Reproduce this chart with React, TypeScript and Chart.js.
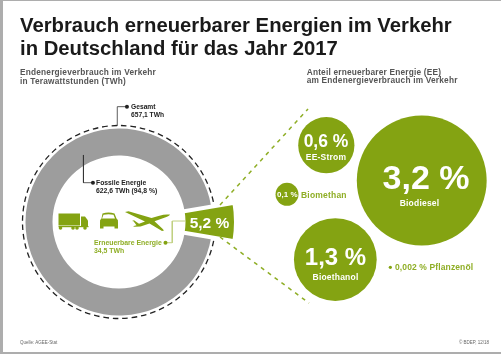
import React, { useEffect, useRef } from "react";
import { Chart, registerables } from "chart.js";

Chart.register(...registerables);

const ringLabels = ["Fossile Energie", "Erneuerbare Energie"];
const ringValues = [622.6, 34.5];
const shareLabels = ["EE-Strom", "Biodiesel", "Biomethan", "Bioethanol", "Pflanzenöl"];
const shareValues = [0.6, 3.2, 0.1, 1.3, 0.002];
const shareX = [326.3, 421.7, 287, 335.3, 390.3];
const shareY = [145.2, 180.5, 194.3, 259.5, 267.3];
const guideUpperX = [220, 308];
const guideUpperY = [205, 109];
const guideLowerX = [220, 309];
const guideLowerY = [237, 303];
const gesamtX = [117.3, 117.3, 127];
const gesamtY = [126, 106.7, 106.7];
const fossilX = [83.5, 83.5, 93];
const fossilY = [155, 182.7, 182.7];
const renewableX = [185, 172.3, 172.3, 165.5];
const renewableY = [221, 221, 242.7, 242.7];

const GREEN = "#84a312";
const LIGHT = "#8fae26";
const GRAY = "#9d9d9d";
const FONT = '"Liberation Sans", Arial, sans-serif';
const CX = 118.5;
const CY = 222;
const BOX = 260;
const SCALE = 36.3;
const PAD = 65; // Chart.js insets the plot area by the largest bubble radius
const halfAngle = (ringValues[1] / (ringValues[0] + ringValues[1])) * 180;

type TP = { x: number; y: number; s: number; c?: string; center?: boolean; ls?: number; w?: number; children: React.ReactNode };
function T({ x, y, s, c = "#222", center, ls = 0, w = 700, children }: TP) {
  return (
    <div
      style={{
        position: "absolute",
        left: x,
        top: y,
        transform: center ? "translate(-50%,-50%)" : "translateY(-50%)",
        font: `${w} ${s}px ${FONT}`,
        color: c,
        letterSpacing: ls,
        whiteSpace: "nowrap",
        lineHeight: 1,
      }}
    >
      {children}
    </div>
  );
}

function pts(xs: number[], ys: number[]) {
  return xs.map((x, i) => ({ x, y: ys[i] }));
}

export default function App() {
  const ringRef = useRef<HTMLCanvasElement>(null);
  const sliceRef = useRef<HTMLCanvasElement>(null);
  const mainRef = useRef<HTMLCanvasElement>(null);

  useEffect(() => {
    const common = {
      animation: false as const,
      responsive: false,
      events: [] as any[],
      plugins: { legend: { display: false }, tooltip: { enabled: false } },
    };
    const dashedCircle = {
      id: "dashedCircle",
      beforeDatasetsDraw(chart: any) {
        const { ctx, chartArea } = chart;
        ctx.save();
        ctx.beginPath();
        ctx.arc((chartArea.left + chartArea.right) / 2, (chartArea.top + chartArea.bottom) / 2, 96.5, 0, Math.PI * 2);
        ctx.setLineDash([5.6, 3.9]);
        ctx.lineWidth = 1.3;
        ctx.strokeStyle = "#222";
        ctx.stroke();
        ctx.restore();
      },
    };
    const ring = new Chart(ringRef.current!, {
      type: "doughnut",
      data: {
        labels: ringLabels,
        datasets: [{ data: ringValues, backgroundColor: [GRAY, "rgba(0,0,0,0)"], borderWidth: 0 }],
      },
      options: { ...common, rotation: 90 + halfAngle, radius: 93.5, cutout: `${(66.5 / 93.5) * 100}%` } as any,
      plugins: [dashedCircle],
    });
    const slice = new Chart(sliceRef.current!, {
      type: "doughnut",
      data: {
        labels: ringLabels,
        datasets: [
          {
            data: ringValues,
            backgroundColor: ["rgba(0,0,0,0)", GREEN],
            borderColor: ["rgba(0,0,0,0)", "#ffffff"],
            borderWidth: [0, 4],
            borderAlign: "center",
          },
        ],
      },
      options: { ...common, rotation: 90 + halfAngle, radius: 117, cutout: `${(64.5 / 117) * 100}%` } as any,
    });
    const lineBase = { type: "line" as const, fill: false, tension: 0, showLine: true };
    const dotAtEnd = (n: number) => (ctx: any) => (ctx.dataIndex === n - 1 ? 2 : 0);
    const main = new Chart(mainRef.current!, {
      type: "bubble",
      data: {
        datasets: [
          {
            label: "Anteil EE",
            data: shareValues.map((v, i) => ({ x: shareX[i], y: shareY[i], r: Math.sqrt(v) * SCALE })),
            backgroundColor: GREEN,
            borderWidth: 0,
          },
          { ...lineBase, data: pts(guideUpperX, guideUpperY), borderColor: LIGHT, borderWidth: 1.5, borderDash: [4, 4.5], pointRadius: 0 },
          { ...lineBase, data: pts(guideLowerX, guideLowerY), borderColor: LIGHT, borderWidth: 1.5, borderDash: [4, 4.5], pointRadius: 0 },
          { ...lineBase, data: pts(gesamtX, gesamtY), borderColor: "#333", borderWidth: 0.8, pointRadius: dotAtEnd(3), pointBackgroundColor: "#222", pointBorderWidth: 0 },
          { ...lineBase, data: pts(fossilX, fossilY), borderColor: "#333", borderWidth: 0.8, pointRadius: dotAtEnd(3), pointBackgroundColor: "#222", pointBorderWidth: 0 },
          { ...lineBase, data: pts(renewableX, renewableY), borderColor: "#c0d080", borderWidth: 1, pointRadius: dotAtEnd(4), pointBackgroundColor: GREEN, pointBorderWidth: 0 },
        ] as any,
      },
      options: {
        ...common,
        layout: { padding: 0 },
        scales: {
          x: { type: "linear", min: 0, max: 501, display: false },
          y: { type: "linear", min: 0, max: 354, reverse: true, display: false },
        },
      } as any,
    });
    return () => {
      ring.destroy();
      slice.destroy();
      main.destroy();
    };
  }, []);

  const abs = { position: "absolute" as const, display: "block" };
  const boxPos = { ...abs, left: CX - BOX / 2, top: CY - BOX / 2 };
  return (
    <div style={{ position: "absolute", left: 0, top: 0, width: 501, height: 354, background: "#fff", overflow: "hidden" }}>
      <div style={{ position: "absolute", left: 0, top: 0, width: 2.5, height: 354, background: "#adadad" }} />
      <div style={{ position: "absolute", left: 0, top: 0, width: 501, height: 1, background: "#adadad" }} />
      <div style={{ position: "absolute", left: 0, top: 352, width: 501, height: 2, background: "#adadad" }} />
      <canvas ref={ringRef} width={BOX} height={BOX} style={boxPos} />
      <canvas ref={sliceRef} width={BOX} height={BOX} style={boxPos} />
      <canvas ref={mainRef} width={501 + 2 * PAD} height={354 + 2 * PAD} style={{ ...abs, left: -PAD, top: -PAD }} />

      <svg width={501} height={354} style={{ ...abs, left: 0, top: 0 }}>
        <g fill={GREEN}>
          <rect x={58.5} y={213.5} width={21.5} height={12} />
          <rect x={58.5} y={226} width={30} height={1.2} />
          <path d="M81 216.5h4l3 4v6h-7z" />
          <circle cx={60.5} cy={228} r={1.8} />
          <circle cx={73} cy={228} r={1.8} />
          <circle cx={77} cy={228} r={1.8} />
          <circle cx={85} cy={228} r={1.8} />
          <path d="M102.5 213.5q6-2 12 0l2 5q2 1 1.5 4v6h-3.5v-2h-11v2h-3.500v-6q-.5-3 1.500-4zM103.500 214.800l-1.500 3.700h13l-1.500-3.700q-5-1.300-10 0z" fillRule="evenodd" />
          <path d="M170 214.500q-.5 1.500-5 3l-10.500 3.800 8 7.500 1.500 1.800-2 .4-12.500-7.400-9 3-6 .2-1.500-.5 3.500-1 -3-4-1.500-.3 2-.8 5 3.500 6-2.300-20-9.400 3.500-.7 23 6.800 7-2.200q7-1.800 10-1.300z" />
        </g>
      </svg>

      <T x={20} y={25} s={20.3} c="#1a1a1a">Verbrauch erneuerbarer Energien im Verkehr</T>
      <T x={20} y={47.500} s={20.3} c="#1a1a1a">in Deutschland für das Jahr 2017</T>
      <T x={20} y={71.500} s={8.300} c="#555" ls={0.2}>Endenergieverbrauch im Verkehr</T>
      <T x={20} y={80.500} s={8.300} c="#555" ls={0.2}>in Terawattstunden (TWh)</T>
      <T x={306.700} y={71.500} s={8.300} c="#555" ls={0.2}>Anteil erneuerbarer Energie (EE)</T>
      <T x={306.700} y={80} s={8.300} c="#555" ls={0.2}>am Endenergieverbrauch im Verkehr</T>

      <T x={131} y={106.700} s={6.700}>Gesamt</T>
      <T x={131} y={115} s={6.700}>657,1 TWh</T>
      <T x={96} y={182.700} s={6.800}>{ringLabels[0]}</T>
      <T x={96} y={190.700} s={6.800}>{ringValues[0].toFixed(1).replace(".", ",")} TWh (94,8 %)</T>
      <T x={94} y={243} s={6.900} c={LIGHT}>{ringLabels[1]}</T>
      <T x={94} y={251} s={6.900} c={LIGHT}>{ringValues[1].toFixed(1).replace(".", ",")} TWh</T>
      <T x={209.500} y={222.700} s={15.500} c="#fff" center>5,2 %</T>

      <T x={326} y={141.700} s={17.500} c="#fff" center>0,6 %</T>
      <T x={326} y={157} s={8.500} c="#fff" center ls={0.2}>{shareLabels[0]}</T>
      <T x={426} y={177} s={34} c="#fff" center>3,2 %</T>
      <T x={419.500} y={203} s={8.500} c="#fff" center ls={0.2}>{shareLabels[1]}</T>
      <T x={287.300} y={194.500} s={8} c="#fff" center>0,1 %</T>
      <T x={301} y={194.500} s={8.500} c={LIGHT} ls={0.2}>{shareLabels[2]}</T>
      <T x={335.500} y={256.700} s={24} c="#fff" center>1,3 %</T>
      <T x={335.500} y={277} s={8.500} c="#fff" center ls={0.2}>{shareLabels[3]}</T>
      <T x={395} y={267.300} s={8.500} c={LIGHT} ls={0.12}>0,002 % {shareLabels[4]}</T>

      <T x={20} y={342.700} s={4.500} c="#666" w={400}>Quelle: AGEE-Stat</T>
      <T x={459} y={342.700} s={4.500} c="#666" w={400}>© BDEP, 12/18</T>
    </div>
  );
}
